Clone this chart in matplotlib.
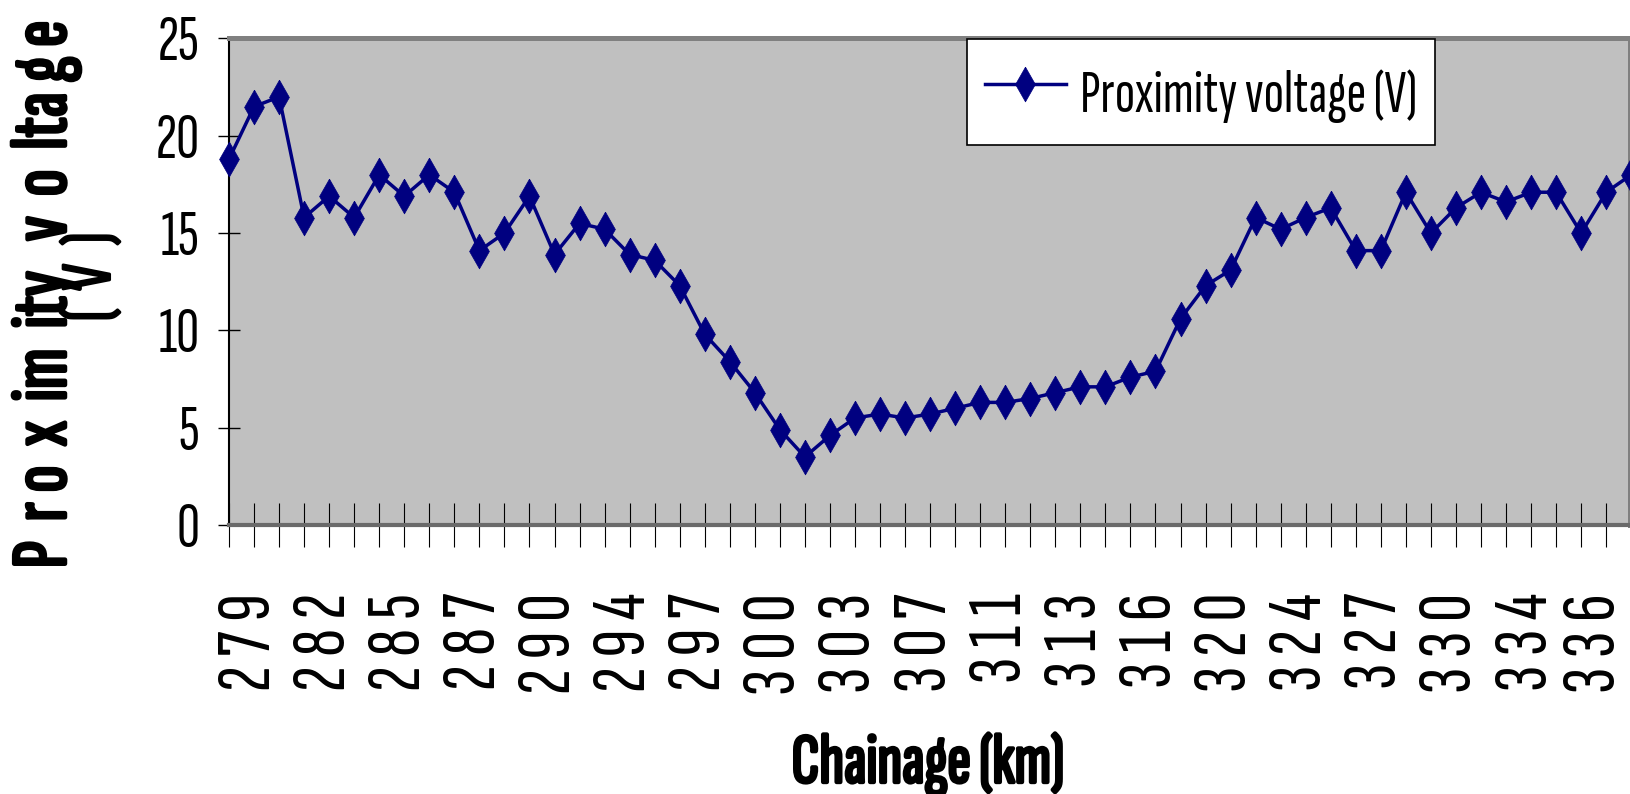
import matplotlib
matplotlib.use("Agg")
import matplotlib.pyplot as plt
import matplotlib.patheffects as pe
from matplotlib.transforms import ScaledTranslation
import numpy as np

# ---- data -------------------------------------------------------------
chainage_labels = ["279", "282", "285", "287", "290", "294", "297", "300",
                   "303", "307", "311", "313", "316", "320", "324", "327",
                   "330", "334", "336"]
voltage = [18.8, 21.5, 22.0, 15.8, 16.9, 15.8, 18.0, 16.9, 18.0, 17.1,
           14.1, 15.0, 16.9, 13.9, 15.5, 15.2, 13.9, 13.6, 12.3, 9.8,
           8.4, 6.8, 4.9, 3.5, 4.6, 5.5, 5.7, 5.5, 5.7, 6.0,
           6.3, 6.3, 6.5, 6.8, 7.1, 7.1, 7.6, 7.9, 10.6, 12.3,
           13.1, 15.8, 15.2, 15.8, 16.3, 14.1, 14.1, 17.1, 15.0, 16.3,
           17.1, 16.6, 17.1, 17.1, 15.0, 17.1, 18.0]
series_name = "Proximity voltage (V)"
y_ticks = [0, 5, 10, 15, 20, 25]
label_every = 3

# ---- figure -----------------------------------------------------------
W, H, DPI = 1630, 794, 100
FONT = ["Sofia Sans Extra Condensed", "Roboto Condensed", "Liberation Sans", "DejaVu Sans"]
plt.rcParams["font.family"] = FONT

fig = plt.figure(figsize=(W / DPI, H / DPI), dpi=DPI, facecolor="white")


def px_rect(x0, y0, x1, y1):
    return [x0 / W, 1 - y1 / H, (x1 - x0) / W, (y1 - y0) / H]


def heavy(width):
    # thicken the strokes of a text so it reads as bold
    return [pe.withStroke(linewidth=width, foreground="black")]


AX_L, AX_T, AX_R, AX_B = 229, 38.5, 1630, 525
ax = fig.add_axes(px_rect(AX_L, AX_T, AX_R, AX_B))
step_px = 25.04
x = np.arange(len(voltage))
ax.set_xlim(0, (AX_R - AX_L) / step_px)
ax.set_ylim(0, 25)
ax.set_facecolor("#C0C0C0")

navy = "#000080"
diamond = [(0, 1), (0.57, 0), (0, -1), (-0.57, 0), (0, 1)]
ax.plot(x, voltage, color=navy, lw=2.5, marker=diamond, ms=25,
        mfc=navy, mec=navy, mew=0.5, clip_on=False, zorder=3,
        label=series_name)

# frame
for side in ("top", "right"):
    ax.spines[side].set_color("#808080")
    ax.spines[side].set_linewidth(3.6)
ax.spines["bottom"].set_color("#6a6a6a")
ax.spines["bottom"].set_linewidth(3.0)
ax.spines["left"].set_color("black")
ax.spines["left"].set_linewidth(1.5)

# ticks
ax.set_xticks(x[x <= ax.get_xlim()[1]])
ax.tick_params(axis="x", direction="inout", length=31, width=0.8,
               color="black", labelbottom=False)
ax.set_yticks(y_ticks)
ax.set_yticklabels([str(v) for v in y_ticks])
ax.tick_params(axis="y", direction="inout", length=16.5, width=1.0,
               color="black", labelsize=46, pad=13)

# category labels, rotated, every third point
lab_off = ScaledTranslation(21 / DPI, -68 / DPI, fig.dpi_scale_trans)
cat_texts = []
for k, lab in enumerate(chainage_labels):
    t = ax.text(k * label_every, 0, " ".join(lab), transform=ax.transData + lab_off,
                rotation=90, ha="center", va="top", fontsize=56, clip_on=False)
    cat_texts.append(t)

# legend
leg = ax.legend(loc="upper left", bbox_to_anchor=((967 - AX_L) / (AX_R - AX_L), 1.0),
                borderaxespad=0, frameon=True, fancybox=False, edgecolor="black",
                facecolor="white", framealpha=1, fontsize=43,
                handlelength=1.35, handletextpad=0.24, borderpad=0.3,
                handleheight=1.45)
leg.get_frame().set_linewidth(1.2)

# axis titles
fig.text(46 / W, 1 - 295 / H, "P  r o  x  im  ity   v  o  lta g e", rotation=90,
         ha="center", va="center", fontsize=57, path_effects=heavy(2.5))
fig.text(92 / W, 1 - 277 / H, "(  V  )", rotation=90,
         ha="center", va="center", fontsize=52, path_effects=heavy(1.5))
fig.text(928 / W, 1 - 764 / H, "Chainage (km)", ha="center", va="center",
         fontsize=51, path_effects=heavy(2.5))

# keep the outermost category label inside the canvas
fig.canvas.draw()
renderer = fig.canvas.get_renderer()
last = cat_texts[-1]
overflow = last.get_window_extent(renderer).x1 - (W - 1)
if overflow > 0:
    last.set_transform(ax.transData + ScaledTranslation((21 - overflow) / DPI, -68 / DPI,
                                                        fig.dpi_scale_trans))

fig.savefig("out.png", dpi=DPI, facecolor="white")
